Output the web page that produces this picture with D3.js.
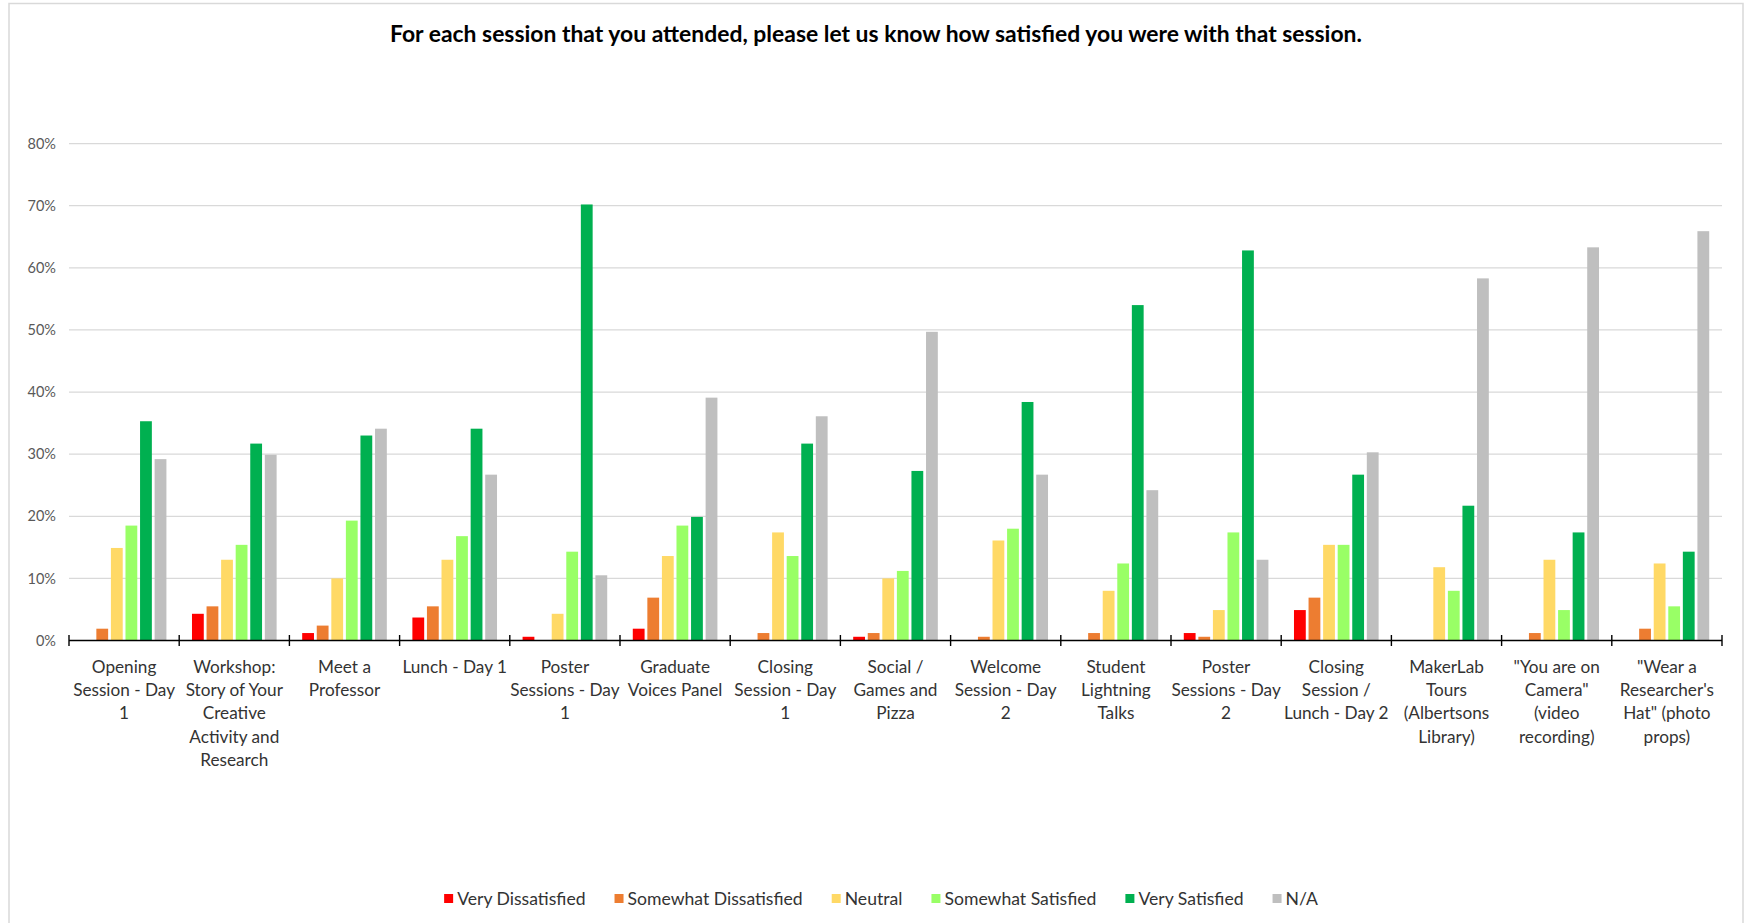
<!DOCTYPE html>
<html>
<head>
<meta charset="utf-8">
<script src="https://cdn.jsdelivr.net/npm/d3@7"></script>
<style>
  body { margin: 0; background: #fff; }
  svg { display: block; }
</style>
</head>
<body>
<svg id="chart" width="1746" height="923"></svg>
<script>
// Sessions on the horizontal axis
const categories = [
  "Opening Session - Day 1",
  "Workshop: Story of Your Creative Activity and Research",
  "Meet a Professor",
  "Lunch - Day 1",
  "Poster Sessions - Day 1",
  "Graduate Voices Panel",
  "Closing Session - Day 1",
  "Social / Games and Pizza",
  "Welcome Session - Day 2",
  "Student Lightning Talks",
  "Poster Sessions - Day 2",
  "Closing Session / Lunch - Day 2",
  "MakerLab Tours (Albertsons Library)",
  "\"You are on Camera\" (video recording)",
  "\"Wear a Researcher's Hat\" (photo props)"
];

// Wrapped tick labels, one list of lines per session
const categoryLabels = [
  ["Opening", "Session - Day", "1"],
  ["Workshop:", "Story of Your", "Creative", "Activity and", "Research"],
  ["Meet a", "Professor"],
  ["Lunch - Day 1"],
  ["Poster", "Sessions - Day", "1"],
  ["Graduate", "Voices Panel"],
  ["Closing", "Session - Day", "1"],
  ["Social /", "Games and", "Pizza"],
  ["Welcome", "Session - Day", "2"],
  ["Student", "Lightning", "Talks"],
  ["Poster", "Sessions - Day", "2"],
  ["Closing", "Session /", "Lunch - Day 2"],
  ["MakerLab", "Tours", "(Albertsons", "Library)"],
  ["\"You are on", "Camera\"", "(video", "recording)"],
  ["\"Wear a", "Researcher's", "Hat\" (photo", "props)"]
];

// Satisfaction levels (legend order) and their colours
const seriesNames = ["Very Dissatisfied", "Somewhat Dissatisfied", "Neutral", "Somewhat Satisfied", "Very Satisfied", "N/A"];
const seriesColors = ["#FF0000", "#ED7D31", "#FFD966", "#99FF66", "#00B050", "#BFBFBF"];

// Share of respondents per session, in percent
const veryDissatisfied    = [0, 4.3, 1.2, 3.7, 0.6, 1.9, 0, 0.6, 0, 0, 1.2, 4.9, 0, 0, 0];
const somewhatDissatisfied = [1.9, 5.5, 2.4, 5.5, 0, 6.9, 1.2, 1.2, 0.6, 1.2, 0.6, 6.9, 0, 1.2, 1.9];
const neutral             = [14.9, 13.0, 10.0, 13.0, 4.3, 13.6, 17.4, 10.0, 16.1, 8.0, 4.9, 15.4, 11.8, 13.0, 12.4];
const somewhatSatisfied   = [18.5, 15.4, 19.3, 16.8, 14.3, 18.5, 13.6, 11.2, 18.0, 12.4, 17.4, 15.4, 8.0, 4.9, 5.5];
const verySatisfied       = [35.3, 31.7, 33.0, 34.1, 70.2, 19.9, 31.7, 27.3, 38.4, 54.0, 62.8, 26.7, 21.7, 17.4, 14.3];
const notApplicable       = [29.2, 29.9, 34.1, 26.7, 10.5, 39.1, 36.1, 49.7, 26.7, 24.2, 13.0, 30.3, 58.3, 63.3, 65.9];

const seriesValues = [veryDissatisfied, somewhatDissatisfied, neutral, somewhatSatisfied, verySatisfied, notApplicable];

// Value axis ticks, in percent
const yTicks = [0, 10, 20, 30, 40, 50, 60, 70, 80];

const titleText = "For each session that you attended, please let us know how satisfied you were with that session.";

// ---- layout ----
const W = 1746, H = 923;
const plot = { left: 69, right: 1722, top: 143.6, bottom: 640.5 };
const FONT = "Lato, 'Open Sans', 'DejaVu Sans', sans-serif";

const svg = d3.select("#chart");

svg.append("rect").attr("x", 0).attr("y", 0).attr("width", W).attr("height", H).attr("fill", "#fff");

// chart area frame
svg.append("rect")
  .attr("x", 9).attr("y", 3.5)
  .attr("width", 1734).attr("height", 940)
  .attr("fill", "none").attr("stroke", "#d9d9d9").attr("stroke-width", 1.5);

const x0 = d3.scaleBand().domain(categories).range([plot.left, plot.right]).paddingInner(0).paddingOuter(0);
const bw = x0.bandwidth();
const x1 = d3.scaleBand().domain(seriesNames)
  .range([bw * 0.116, bw * 0.884])
  .paddingInner(0.19).paddingOuter(0);
const y = d3.scaleLinear().domain([0, 80]).range([plot.bottom, plot.top]);

// gridlines
svg.append("g").selectAll("line").data(yTicks.filter(d => d > 0)).join("line")
  .attr("x1", plot.left).attr("x2", plot.right)
  .attr("y1", d => y(d)).attr("y2", d => y(d))
  .attr("stroke", "#d9d9d9").attr("stroke-width", 1.3);

// value axis labels
const yAxis = d3.axisLeft(y).tickValues(yTicks).tickFormat(d => d + "%").tickSize(0).tickPadding(13);
const yg = svg.append("g").attr("transform", `translate(${plot.left},0)`).call(yAxis);
yg.select(".domain").remove();
yg.selectAll("text").attr("font-family", FONT).attr("font-size", 14.5).attr("fill", "#595959");

// bars
const groups = svg.append("g").selectAll("g").data(categories).join("g")
  .attr("transform", d => `translate(${x0(d)},0)`);

groups.selectAll("rect")
  .data((c, i) => seriesNames.map((s, k) => ({ series: s, color: seriesColors[k], value: seriesValues[k][i] })))
  .join("rect")
  .filter(d => d.value > 0)
  .attr("x", d => x1(d.series))
  .attr("width", x1.bandwidth())
  .attr("y", d => y(d.value))
  .attr("height", d => y(0) - y(d.value))
  .attr("fill", d => d.color);

// category axis with cross tick marks at group boundaries
const xg = svg.append("g").attr("transform", `translate(0,${plot.bottom})`);
xg.append("line").attr("x1", plot.left).attr("x2", plot.right).attr("y1", 0).attr("y2", 0)
  .attr("stroke", "#000").attr("stroke-width", 1.6);
const boundaries = categories.map(c => x0(c)).concat([plot.right]);
xg.selectAll("line.tick").data(boundaries).join("line").attr("class", "tick")
  .attr("x1", d => d).attr("x2", d => d).attr("y1", -5.5).attr("y2", 5.5)
  .attr("stroke", "#000").attr("stroke-width", 1.4);

// category labels
const lineH = 23.4;
const labelG = svg.append("g");
categories.forEach((c, i) => {
  const t = labelG.append("text")
    .attr("x", x0(c) + bw / 2)
    .attr("text-anchor", "middle")
    .attr("font-family", FONT).attr("font-size", 17.2).attr("fill", "#333333");
  categoryLabels[i].forEach((ln, j) => {
    t.append("tspan").attr("x", x0(c) + bw / 2).attr("y", 666 + j * lineH)
      .attr("dominant-baseline", "central").text(ln);
  });
});

// title
svg.append("text")
  .attr("x", 876).attr("y", 33)
  .attr("text-anchor", "middle").attr("dominant-baseline", "central")
  .attr("font-family", FONT).attr("font-weight", "bold").attr("font-size", 22.9)
  .attr("fill", "#000").text(titleText);

// legend, laid out left to right and centred under the plot
const legend = svg.append("g");
const items = legend.selectAll("g").data(seriesNames).join("g");
items.append("rect").attr("width", 9).attr("height", 9).attr("y", -4.5)
  .attr("fill", (d, i) => seriesColors[i]);
items.append("text").attr("x", 13).attr("dominant-baseline", "central")
  .attr("font-family", FONT).attr("font-size", 17.6).attr("fill", "#333333").text(d => d);
let cursor = 0;
const gap = 29;
items.each(function () {
  const g = d3.select(this);
  g.attr("transform", `translate(${cursor},0)`);
  cursor += 13 + g.select("text").node().getComputedTextLength() + gap;
});
const legendW = cursor - gap;
legend.attr("transform", `translate(${881 - legendW / 2},898.5)`);
</script>
</body>
</html>
